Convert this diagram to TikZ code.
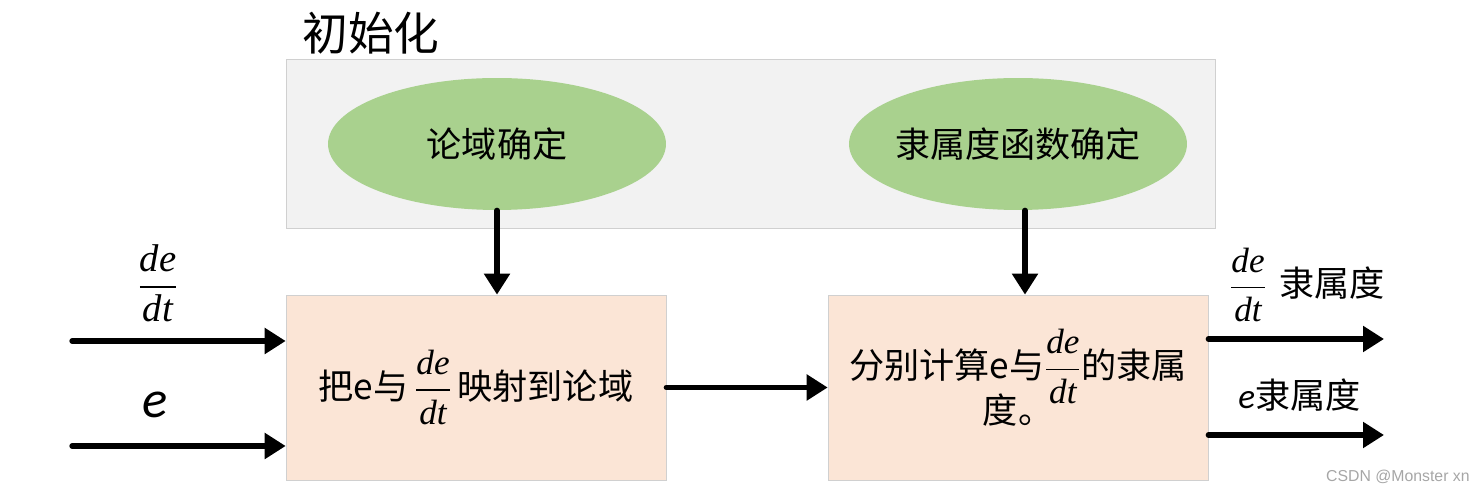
\documentclass[tikz,border=0pt]{standalone}
\usepackage{amsmath}
\usepackage{fontspec}
\usetikzlibrary{arrows.meta,shapes.geometric}
\newfontfamily\cjk{Noto Sans CJK SC}
\newfontfamily\tnr{Liberation Serif}
\newfontfamily\cali{Carlito}
\newfontfamily\arialf{Liberation Sans}
\definecolor{initgray}{HTML}{F2F2F2}
\definecolor{ellgreen}{HTML}{A9D18E}
\definecolor{boxpeach}{HTML}{FBE5D6}
\definecolor{edgegray}{HTML}{D0D0D0}
\definecolor{markgray}{HTML}{A6A6A6}
\newcommand{\dedt}{\ensuremath{\dfrac{\mbox{\tnr\itshape de}}{\mbox{\tnr\itshape dt}}}}
\tikzset{
    every node/.style={inner sep=0mm, font=\cjk\fontsize{20}{25.5}\selectfont}
}
\tikzset{
    initbox/.style={rectangle, draw=edgegray, fill=initgray, minimum width=18.58cm, minimum height=3.38cm},
    initell/.style={ellipse, fill=ellgreen, inner xsep=-0.15cm, minimum width=6.76cm, minimum height=2.64cm},
    stepbox/.style={rectangle, draw=edgegray, fill=boxpeach, minimum width=7.6cm, minimum height=3.7cm, align=center},
    flow/.style={line width=3pt, line cap=round, -{Triangle[length=0.42cm, width=0.5cm]}}
}

\begin{document}
\begin{tikzpicture}[x=0.02cm, y=-0.02cm]
    \useasboundingbox (0,0) rectangle (1484,492);

    \node (init) [initbox] at (750.5,143.5) {};
    \node (title) [anchor=west, font=\cjk\fontsize{26}{30}\selectfont] at (302,33) {初始化};
    \node (dom) [initell] at (497,144) {论域确定};
    \node (mem) [initell] at (1018,144) {隶属度函数确定};

    \node (map) [stepbox] at (476,387.5) {把e与\,\dedt\,映射到论域};
    \node (calc) [stepbox] at (1018,387.5) {分别计算e与\smash{\dedt}的隶属\\度。};

    \coordinate (in1) at (72,341);
    \coordinate (in2) at (72,446);
    \coordinate (out1) at (1384,339);
    \coordinate (out2) at (1384,435);

    \node (lin1) [font=\fontsize{22}{26}\selectfont] at (158,283) {\dedt};
    \node (lin2) [font=\cali\itshape\fontsize{30}{34}\selectfont] at (155,405) {e};
    \node (lout1) [anchor=west] at (1229,285) {\dedt\hspace{0.25cm}隶属度};
    \node (lout2) [anchor=west] at (1238,395) {{\cali\itshape e}隶属度};

    \node (mark) [anchor=east, text=markgray, font=\arialf\fontsize{9}{10}\selectfont] at (1470,477) {CSDN @Monster xn};

    \draw [flow] (in1) -- (in1 -| map.west);
    \draw [flow] (in2) -- (in2 -| map.west);
    \draw [flow] (dom.south) -- (dom.south |- map.north);
    \draw [flow] ([xshift=0.14cm]mem.south) -- ([xshift=0.14cm]mem.south |- calc.north);
    \draw [flow] (map.east) -- (calc.west);
    \draw [flow] (out1 -| calc.east) -- (out1);
    \draw [flow] (out2 -| calc.east) -- (out2);
\end{tikzpicture}
\end{document}
